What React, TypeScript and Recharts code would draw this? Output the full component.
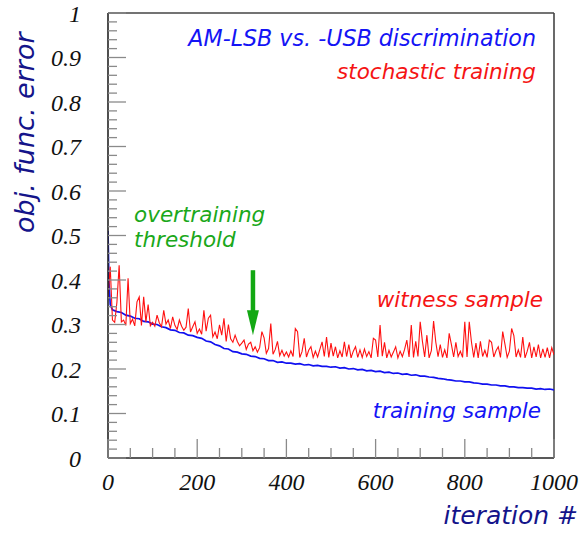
import React from 'react';
import { LineChart, Line, XAxis, YAxis, ReferenceLine } from 'recharts';

// witness sample (red), one value every 5 iterations, 0..1000
const WITNESS_STEP = 5;
const WITNESS: number[] = [
  0.36, 0.43, 0.31, 0.305, 0.35, 0.433, 0.306, 0.31, 0.298, 0.404,
  0.302, 0.312, 0.297, 0.351, 0.362, 0.298, 0.362, 0.306, 0.345, 0.297,
  0.305, 0.296, 0.321, 0.304, 0.295, 0.332, 0.301, 0.31, 0.291, 0.317,
  0.298, 0.289, 0.31, 0.296, 0.287, 0.294, 0.336, 0.283, 0.295, 0.306,
  0.28, 0.29, 0.278, 0.332, 0.285, 0.314, 0.321, 0.272, 0.283, 0.268,
  0.299, 0.276, 0.314, 0.262, 0.3, 0.268, 0.26, 0.276, 0.262, 0.252,
  0.258, 0.265, 0.244, 0.256, 0.26, 0.241, 0.25, 0.238, 0.248, 0.284,
  0.27, 0.235, 0.246, 0.302, 0.233, 0.244, 0.262, 0.23, 0.242, 0.229,
  0.238, 0.227, 0.241, 0.228, 0.291, 0.284, 0.226, 0.239, 0.269, 0.227,
  0.242, 0.25, 0.226, 0.24, 0.227, 0.244, 0.261, 0.228, 0.272, 0.226,
  0.258, 0.229, 0.25, 0.225, 0.241, 0.227, 0.261, 0.228, 0.255, 0.225,
  0.24, 0.25, 0.226, 0.243, 0.226, 0.245, 0.228, 0.239, 0.225, 0.269,
  0.265, 0.227, 0.299, 0.229, 0.26, 0.225, 0.242, 0.227, 0.238, 0.25,
  0.225, 0.24, 0.228, 0.244, 0.265, 0.227, 0.299, 0.226, 0.262, 0.228,
  0.306, 0.262, 0.227, 0.276, 0.225, 0.241, 0.308, 0.26, 0.228, 0.255,
  0.226, 0.243, 0.225, 0.28, 0.255, 0.227, 0.26, 0.228, 0.24, 0.226,
  0.306, 0.227, 0.306, 0.26, 0.226, 0.258, 0.225, 0.262, 0.228, 0.242,
  0.226, 0.265, 0.26, 0.227, 0.241, 0.25, 0.226, 0.284, 0.256, 0.226,
  0.24, 0.291, 0.275, 0.227, 0.243, 0.226, 0.272, 0.225, 0.24, 0.26,
  0.225, 0.25, 0.227, 0.255, 0.225, 0.245, 0.226, 0.248, 0.225, 0.248,
  0.232,
];

// training sample (blue): first iterations, then every 10 iterations
const TRAINING_HEAD_ITER = [0, 2, 5];
const TRAINING_STEP = 10;
const TRAINING: number[] = [
  0.51, 0.40, 0.345,
  0.333, 0.329, 0.327, 0.321, 0.319, 0.314, 0.313, 0.307, 0.306, 0.301,
  0.300, 0.295, 0.293, 0.288, 0.287, 0.282, 0.281, 0.276, 0.275, 0.271,
  0.269, 0.263, 0.261, 0.255, 0.252, 0.246, 0.245, 0.239, 0.238, 0.234,
  0.233, 0.229, 0.228, 0.224, 0.223, 0.219, 0.219, 0.215, 0.216, 0.213,
  0.213, 0.211, 0.212, 0.209, 0.210, 0.207, 0.208, 0.206, 0.206, 0.204,
  0.205, 0.202, 0.203, 0.200, 0.201, 0.198, 0.199, 0.196, 0.197, 0.194,
  0.195, 0.192, 0.193, 0.190, 0.191, 0.188, 0.189, 0.186, 0.187, 0.184,
  0.184, 0.182, 0.181, 0.179, 0.178, 0.176, 0.175, 0.173, 0.173, 0.171,
  0.171, 0.169, 0.168, 0.166, 0.166, 0.164, 0.164, 0.162, 0.162, 0.160,
  0.160, 0.158, 0.158, 0.157, 0.157, 0.155, 0.156, 0.154, 0.155, 0.153,
];

const X_MAJOR = [0, 200, 400, 600, 800, 1000];
const X_LABELS = ['0', '200', '400', '600', '800', '1000'];
const Y_MAJOR = [0, 0.1, 0.2, 0.3, 0.4, 0.5, 0.6, 0.7, 0.8, 0.9, 1];
const Y_LABELS = ['0', '0.1', '0.2', '0.3', '0.4', '0.5', '0.6', '0.7', '0.8', '0.9', '1'];

const OVERTRAINING_ITER = 325;
const ARROW_TOP = 0.422;
const ARROW_TIP = 0.276;

const witnessData = WITNESS.map((v, i) => ({ iter: i * WITNESS_STEP, v }));
const trainingIters = [
  ...TRAINING_HEAD_ITER,
  ...Array.from({ length: TRAINING.length - TRAINING_HEAD_ITER.length }, (_, i) => (i + 1) * TRAINING_STEP),
];
const trainingData = TRAINING.map((v, i) => ({ iter: trainingIters[i], v }));

const xTicks = Array.from({ length: 21 }, (_, i) => i * 50);
const yTicks = Array.from({ length: 51 }, (_, i) => Math.round(i * 2) / 100);

const TICK_COLOR = '#8a8a8a';
const SERIF = '"Liberation Serif", "Times New Roman", serif';
const SANS = '"DejaVu Sans", Verdana, sans-serif';
const tickTextStyle: React.CSSProperties = { fontFamily: SERIF, fontStyle: 'italic', fontSize: 24 };

const YTick = (props: any) => {
  const { x, y, payload } = props;
  const idx = Y_MAJOR.findIndex((m) => Math.abs(m - payload.value) < 1e-6);
  const major = idx >= 0;
  return (
    <g>
      <line x1={x} x2={x + (major ? 18 : 9)} y1={y} y2={y} stroke={TICK_COLOR} strokeWidth={1.3} />
      {major && (
        <text x={x - 27} y={y} dy="0.36em" textAnchor="end" style={tickTextStyle} fill="#111">
          {Y_LABELS[idx]}
        </text>
      )}
    </g>
  );
};

const XTick = (props: any) => {
  const { x, y, payload } = props;
  const idx = X_MAJOR.findIndex((m) => Math.abs(m - payload.value) < 1e-6);
  const major = idx >= 0;
  return (
    <g>
      <line x1={x} x2={x} y1={y} y2={y - (major ? 19 : 10)} stroke={TICK_COLOR} strokeWidth={1.3} />
      {major && (
        <text x={x} y={y + 23} dy="0.36em" textAnchor="middle" style={tickTextStyle} fill="#111">
          {X_LABELS[idx]}
        </text>
      )}
    </g>
  );
};

const ArrowShape = (props: any) => {
  const { x1, y1, y2 } = props;
  if (x1 == null || y1 == null || y2 == null) return null;
  const head = 25;
  return (
    <g>
      <line x1={x1} x2={x1} y1={y1} y2={y2 - head + 1} stroke="#13a813" strokeWidth={4.5} />
      <polygon points={`${x1 - 6},${y2 - head} ${x1 + 6},${y2 - head} ${x1},${y2}`} fill="#13a813" />
    </g>
  );
};

const labelStyle: React.CSSProperties = { fontFamily: SANS, fontStyle: 'italic' };

export default function App() {
  return (
    <div style={{ position: 'absolute', left: 0, top: 0, width: 582, height: 533, background: '#fff' }}>
      <LineChart width={582} height={533} data={witnessData} margin={{ top: 13, right: 28, left: 48, bottom: 35 }}>
        <XAxis
          dataKey="iter"
          type="number"
          domain={[0, 1000]}
          ticks={xTicks}
          interval={0}
          tickLine={false}
          tickSize={0}
          tickMargin={0}
          tick={<XTick />}
          axisLine={{ stroke: '#222', strokeWidth: 1.6 }}
          height={40}
          allowDataOverflow
        />
        <YAxis
          type="number"
          domain={[0, 1]}
          ticks={yTicks}
          interval={0}
          tickLine={false}
          tickSize={0}
          tickMargin={0}
          tick={<YTick />}
          axisLine={{ stroke: '#222', strokeWidth: 1.6 }}
          width={60}
          allowDataOverflow
        />
        <ReferenceLine y={1} stroke="#444" strokeWidth={1.6} />
        <ReferenceLine x={1000} stroke="#444" strokeWidth={1.6} />
        <Line data={trainingData} dataKey="v" type="linear" stroke="#1010f0" strokeWidth={1.7} dot={false} isAnimationActive={false} />
        <Line data={witnessData} dataKey="v" type="linear" stroke="#ff1010" strokeWidth={1.1} dot={false} isAnimationActive={false} />
        <ReferenceLine
          segment={[{ x: OVERTRAINING_ITER, y: ARROW_TOP }, { x: OVERTRAINING_ITER, y: ARROW_TIP }]}
          shape={<ArrowShape />}
        />
      </LineChart>
      <svg width={582} height={533} style={{ position: 'absolute', left: 0, top: 0, pointerEvents: 'none' }}>
        <g style={labelStyle}>
          <text x={536} y={46} textAnchor="end" fontSize={22.2} fill="#1414f5">AM-LSB vs. -USB discrimination</text>
          <text x={536} y={79} textAnchor="end" fontSize={21.5} fill="#f51414">stochastic training</text>
          <text x={134} y={222} fontSize={21.5} fill="#1aa81a">overtraining</text>
          <text x={134} y={247} fontSize={21.5} fill="#1aa81a">threshold</text>
          <text x={543} y={307} textAnchor="end" fontSize={21.5} fill="#f51414">witness sample</text>
          <text x={541} y={418} textAnchor="end" fontSize={21.5} fill="#1414f5">training sample</text>
          <text x={578} y={524} textAnchor="end" fontSize={25} fill="#14148a">iteration #</text>
          <text transform="translate(34,233) rotate(-90)" textAnchor="start" fontSize={27} fill="#14148a">obj. func. error</text>
        </g>
      </svg>
    </div>
  );
}
